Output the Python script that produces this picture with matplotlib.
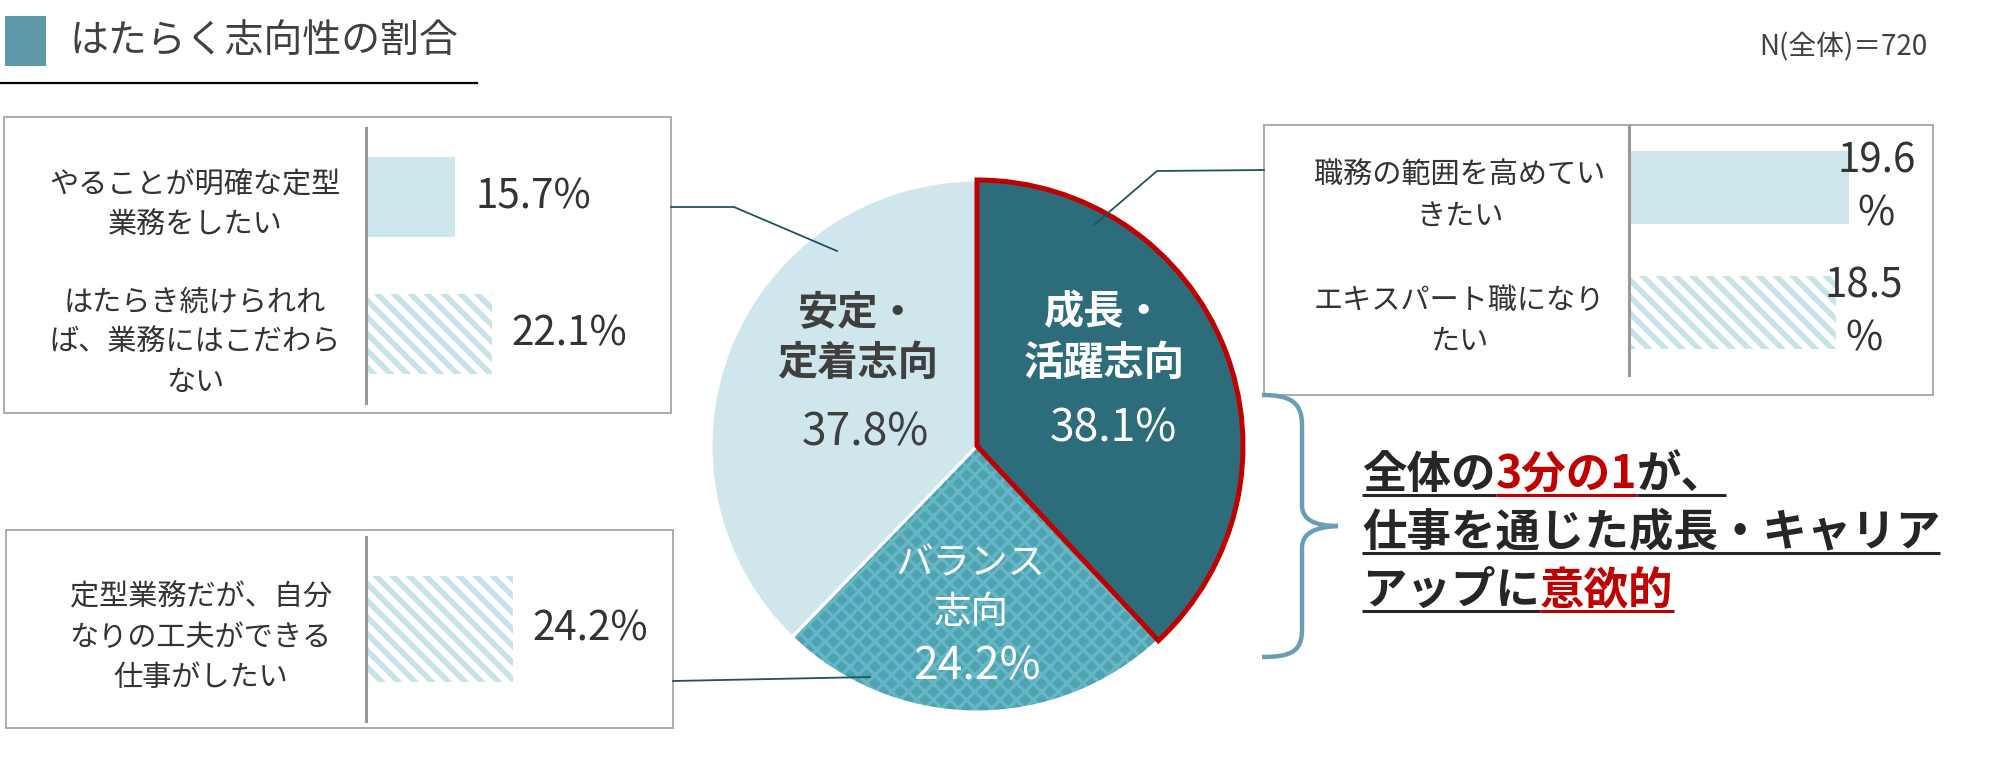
import numpy as np
import matplotlib.pyplot as plt
from matplotlib.patches import Rectangle, Wedge, PathPatch
from matplotlib.path import Path

plt.rcParams['font.family'] = ['Noto Sans CJK JP', 'DejaVu Sans']
plt.rcParams['hatch.linewidth'] = 4.0

# ---------------------------------------------------
# data
title = 'はたらく志向性の割合'
n_text = 'N(全体)＝720'

pie_labels = ['成長・\n活躍志向', 'バランス\n志向', '安定・\n定着志向']
pie_values = [38.1, 24.2, 37.8]

stable_labels = ['やることが明確な定型\n業務をしたい',
                 'はたらき続けられれ\nば、業務にはこだわら\nない']
stable_values = [15.7, 22.1]

balance_labels = ['定型業務だが、自分\nなりの工夫ができる\n仕事がしたい']
balance_values = [24.2]

growth_labels = ['職務の範囲を高めてい\nきたい', 'エキスパート職になり\nたい']
growth_values = [19.6, 18.5]

# (text, highlighted)
callout_lines = [[('全体の', False), ('3分の1', True), ('が、', False)],
                 [('仕事を通じた成長・キャリア', False)],
                 [('アップに', False), ('意欲的', True)]]

# ---------------------------------------------------
# colours
DARK = '#2D6C7A'
LIGHT = '#CFE7EC'
MID_FACE = '#4DA3AF'
MID_HATCH = '#66B6C7'
STRIPE = '#C6E3EA'
SOLID = '#CDE6EC'
RED = '#C00000'
TEXT = '#333333'
LEADER = '#1F5361'
BOX = '#A6A6A6'
BRACE = '#6A9EB4'

W, H = 2000, 776
fig = plt.figure(figsize=(W / 100, H / 100), dpi=100)


def axes_px(x0, y0, x1, y1):
    return fig.add_axes([x0 / W, 1 - y1 / H, (x1 - x0) / W, (y1 - y0) / H])


def bar_box(x0, y0, x1, y1, labels, values, px_per_pct, pad, two_line=False):
    ax = axes_px(x0, y0, x1, y1)
    ax.set_facecolor('none')
    pos = np.arange(len(values))
    ax.set_xlim(0, (x1 - x0) / px_per_pct)
    ax.set_ylim(len(values) - 0.5, -0.5)
    for p, v in zip(pos, values):
        if p == 0 and len(values) > 1:
            ax.barh(p, v, height=0.58, color=SOLID, linewidth=0)
        else:
            bars = ax.barh(p, v, height=0.58, color='white', edgecolor=STRIPE,
                           hatch='\\\\', linewidth=0)
            for b in bars:
                if hasattr(b, 'set_hatch_linewidth'):
                    b.set_hatch_linewidth(4.0)
        if two_line:
            ax.annotate(f'{v}\n%', xy=(v, p), xytext=(20, 0), textcoords='offset points',
                        ha='center', va='center', fontsize=29, color=TEXT,
                        linespacing=1.4, annotation_clip=False)
        else:
            ax.annotate(f'{v}%', xy=(v, p), xytext=(14.4, 0), textcoords='offset points',
                        ha='left', va='center', fontsize=29, color=TEXT,
                        annotation_clip=False)
    ax.set_yticks(pos)
    ax.set_yticklabels(labels, ha='center', multialignment='center',
                       fontsize=21, color=TEXT, linespacing=1.45)
    ax.tick_params(axis='y', length=0, pad=pad)
    ax.set_xticks([])
    for s in ['top', 'right', 'bottom']:
        ax.spines[s].set_visible(False)
    ax.spines['left'].set_color('#999999')
    ax.spines['left'].set_linewidth(2.2)
    return ax


# ---------------------------------------------------
# pie
cx, cy, r = 977, 446, 266
ax_pie = axes_px(cx - r, cy - r, cx + r, cy + r)
wedges, _ = ax_pie.pie(pie_values, startangle=90, counterclock=False, radius=1,
                       colors=[DARK, MID_FACE, LIGHT],
                       wedgeprops=dict(edgecolor='white', linewidth=2.2))
w_growth, w_bal, w_stab = wedges
w_growth.set_edgecolor(RED)
w_growth.set_linewidth(3.6)
w_growth.set_zorder(5)
w_bal.set_edgecolor(MID_HATCH)
w_bal.set_linewidth(0)
w_bal.set_hatch('xx')
if hasattr(w_bal, 'set_hatch_linewidth'):
    w_bal.set_hatch_linewidth(2.4)
ax_pie.add_patch(Wedge(w_bal.center, w_bal.r, w_bal.theta1, w_bal.theta2,
                       fill=False, edgecolor='white', linewidth=2.2, zorder=3))
ax_pie.set_xlim(-1, 1)
ax_pie.set_ylim(-1, 1)
ax_pie.set_aspect('equal')
ax_pie.axis('off')

# ---------------------------------------------------
# bar boxes
bar_box(366, 128, 660, 403, stable_labels, stable_values, 5.69, 123)
bar_box(366, 537, 660, 721, balance_labels, balance_values, 6.07, 119)
bar_box(1629, 125, 1925, 375, growth_labels, growth_values, 11.2, 122, two_line=True)

# ---------------------------------------------------
# overlay in pixel coordinates
top = fig.add_axes([0, 0, 1, 1])
top.set_xlim(0, W)
top.set_ylim(H, 0)
top.axis('off')
top.patch.set_alpha(0)

# title
top.add_patch(Rectangle((5, 16), 41, 50, color='#5E98AB', linewidth=0))
top.text(70, 41, title, fontsize=28, color='#404040', va='center', ha='left')
top.plot([0, 477], [83, 83], color='black', lw=1.6)
top.text(1927, 47, n_text, fontsize=20, color='#404040', va='center', ha='right')

# box frames
for (x0, y0, x1, y1) in [(4, 117, 671, 413), (6, 530, 673, 728), (1264, 125, 1933, 395)]:
    top.add_patch(Rectangle((x0, y0), x1 - x0, y1 - y0, fill=False,
                            edgecolor=BOX, linewidth=1.3))

# leader lines
top.plot([671, 734, 837], [207, 207, 251], color=LEADER, lw=1.3)
top.plot([673, 870], [681, 677], color=LEADER, lw=1.3)
top.plot([1094, 1157, 1264], [225, 171, 170], color=LEADER, lw=1.3, zorder=6)

# pie labels
top.text(1104, 338, pie_labels[0], fontsize=29, fontweight='bold', color='white',
         ha='center', va='center', linespacing=1.3)
top.text(1113, 429, f'{pie_values[0]}%', fontsize=32, color='white',
         ha='center', va='center')
top.text(971, 588, pie_labels[1], fontsize=27, color='white',
         ha='center', va='center', linespacing=1.3)
top.text(977, 667, f'{pie_values[1]}%', fontsize=32, color='white',
         ha='center', va='center')
top.text(858, 338, pie_labels[2], fontsize=29, fontweight='bold', color='#3F3F3F',
         ha='center', va='center', linespacing=1.3)
top.text(865, 433, f'{pie_values[2]}%', fontsize=32, color='#3F3F3F',
         ha='center', va='center')

# brace
verts = [(1262, 395), (1290, 395), (1302, 402), (1302, 425),
         (1302, 505),
         (1302, 520), (1315, 526), (1338, 526),
         (1315, 527), (1302, 533), (1302, 548),
         (1302, 630),
         (1302, 652), (1290, 657), (1262, 657)]
codes = [Path.MOVETO, Path.CURVE4, Path.CURVE4, Path.CURVE4,
         Path.LINETO,
         Path.CURVE4, Path.CURVE4, Path.CURVE4,
         Path.CURVE4, Path.CURVE4, Path.CURVE4,
         Path.LINETO,
         Path.CURVE4, Path.CURVE4, Path.CURVE4]
top.add_patch(PathPatch(Path(verts, codes), fill=False, edgecolor=BRACE, lw=3.2))

# callout with underlines
fig.canvas.draw()
renderer = fig.canvas.get_renderer()
y_base = 488
for line in callout_lines:
    x = 1362
    for txt, hi in line:
        col = RED if hi else '#262626'
        t = top.text(x, y_base, txt, fontsize=32, fontweight='bold', color=col,
                     ha='left', va='baseline')
        w = t.get_window_extent(renderer).width
        top.plot([x, x + w], [y_base + 7, y_base + 7], color=col, lw=2.2,
                 solid_capstyle='butt')
        x += w
    y_base += 58

fig.savefig('out.png', dpi=100)
